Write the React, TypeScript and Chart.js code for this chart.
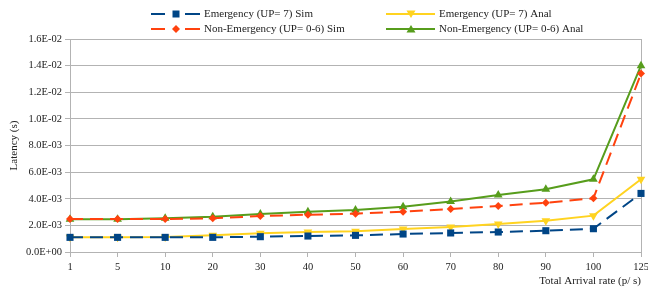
import React, { useEffect, useRef } from "react";
import { Chart, registerables } from "chart.js";

Chart.register(...registerables);

const categories = ["1", "5", "10", "20", "30", "40", "50", "60", "70", "80", "90", "100", "125"];
const emergencySim = [0.0011, 0.0011, 0.0011, 0.0011, 0.00115, 0.0012, 0.00125, 0.00135, 0.00143, 0.0015, 0.0016, 0.00175, 0.0044];
const emergencyAnal = [0.0011, 0.0011, 0.00113, 0.00125, 0.0014, 0.0015, 0.00155, 0.00173, 0.00188, 0.0021, 0.00235, 0.00273, 0.00546];
const nonEmergencySim = [0.00248, 0.00248, 0.00248, 0.00253, 0.0027, 0.0028, 0.00288, 0.00303, 0.00323, 0.00346, 0.0037, 0.00403, 0.0134];
const nonEmergencyAnal = [0.00246, 0.00246, 0.00253, 0.00265, 0.00285, 0.00303, 0.00315, 0.0034, 0.0038, 0.00428, 0.00471, 0.00546, 0.0140];
const seriesLabels = [
  "Emergency (UP= 7) Sim",
  "Non-Emergency (UP= 0-6) Sim",
  "Emergency (UP= 7) Anal",
  "Non-Emergency (UP= 0-6) Anal",
];

const BLUE = "#004586";
const ORANGE = "#ff420e";
const YELLOW = "#ffd320";
const GREEN = "#579d1c";
const GRID = "#b3b3b3";
const TEXT = "#222";
const FONT = "'Liberation Serif', 'Times New Roman', serif";

function fmtSci(v: number): string {
  if (Math.abs(v) < 1e-12) return "0.0E+00";
  const s = v.toExponential(1);
  const [m, e] = s.split("e");
  const n = parseInt(e, 10);
  const sign = n < 0 ? "-" : "+";
  const abs = Math.abs(n);
  return m + "E" + sign + (abs < 10 ? "0" + abs : String(abs));
}

function drawMarker(ctx: CanvasRenderingContext2D, kind: string, x: number, y: number, color: string) {
  ctx.save();
  ctx.fillStyle = color;
  ctx.beginPath();
  if (kind === "rect") {
    ctx.rect(x - 3.5, y - 3.5, 7, 7);
  } else if (kind === "rectRot") {
    ctx.moveTo(x, y - 4);
    ctx.lineTo(x + 4, y);
    ctx.lineTo(x, y + 4);
    ctx.lineTo(x - 4, y);
    ctx.closePath();
  } else if (kind === "triDown") {
    ctx.moveTo(x - 4.5, y - 3.5);
    ctx.lineTo(x + 4.5, y - 3.5);
    ctx.lineTo(x, y + 4);
    ctx.closePath();
  } else {
    ctx.moveTo(x - 4.5, y + 3.5);
    ctx.lineTo(x + 4.5, y + 3.5);
    ctx.lineTo(x, y - 4);
    ctx.closePath();
  }
  ctx.fill();
  ctx.restore();
}

const legendPlugin = {
  id: "customLegend",
  afterDraw(chart: any) {
    const ctx: CanvasRenderingContext2D = chart.ctx;
    const items = [
      { label: seriesLabels[0], color: BLUE, marker: "rect", dashed: true, x: 151, y: 14 },
      { label: seriesLabels[1], color: ORANGE, marker: "rectRot", dashed: true, x: 151, y: 29 },
      { label: seriesLabels[2], color: YELLOW, marker: "triDown", dashed: false, x: 386, y: 14 },
      { label: seriesLabels[3], color: GREEN, marker: "tri", dashed: false, x: 386, y: 29 },
    ];
    ctx.save();
    for (const it of items) {
      ctx.strokeStyle = it.color;
      ctx.lineWidth = 2;
      ctx.beginPath();
      if (it.dashed) {
        ctx.moveTo(it.x, it.y);
        ctx.lineTo(it.x + 14, it.y);
        ctx.moveTo(it.x + 34, it.y);
        ctx.lineTo(it.x + 49, it.y);
      } else {
        ctx.moveTo(it.x, it.y);
        ctx.lineTo(it.x + 49, it.y);
      }
      ctx.stroke();
      drawMarker(ctx, it.marker, it.x + 25, it.y, it.color);
      ctx.fillStyle = TEXT;
      ctx.font = "11px " + FONT;
      ctx.textBaseline = "middle";
      ctx.textAlign = "left";
      ctx.fillText(it.label, it.x + 53, it.y);
    }
    ctx.restore();
  },
};

export default function App() {
  const ref = useRef<HTMLCanvasElement | null>(null);

  useEffect(() => {
    document.body.style.margin = "0";
    const canvas = ref.current;
    if (!canvas) return;
    const dash = [13, 7];
    const chart = new Chart(canvas, {
      type: "line",
      data: {
        labels: categories,
        datasets: [
          {
            label: seriesLabels[0],
            data: emergencySim,
            borderColor: BLUE,
            backgroundColor: BLUE,
            borderWidth: 2,
            borderDash: dash,
            pointStyle: "rect",
            pointRadius: 5,
            pointBorderWidth: 0,
            tension: 0,
          },
          {
            label: seriesLabels[1],
            data: nonEmergencySim,
            borderColor: ORANGE,
            backgroundColor: ORANGE,
            borderWidth: 2,
            borderDash: dash,
            pointStyle: "rectRot",
            pointRadius: 4,
            pointBorderWidth: 0,
            tension: 0,
          },
          {
            label: seriesLabels[2],
            data: emergencyAnal,
            borderColor: YELLOW,
            backgroundColor: YELLOW,
            borderWidth: 2,
            pointStyle: "triangle",
            pointRotation: 180,
            pointRadius: 5,
            pointBorderWidth: 0,
            tension: 0,
          },
          {
            label: seriesLabels[3],
            data: nonEmergencyAnal,
            borderColor: GREEN,
            backgroundColor: GREEN,
            borderWidth: 2,
            pointStyle: "triangle",
            pointRadius: 5,
            pointBorderWidth: 0,
            tension: 0,
          },
        ],
      },
      options: {
        responsive: false,
        animation: false,
        layout: { padding: { left: 0, right: 7, top: 39, bottom: 0 } },
        plugins: {
          legend: { display: false },
          tooltip: { enabled: false },
        },
        scales: {
          x: {
            offset: false,
            grid: {
              display: true,
              drawOnChartArea: true,
              color: (c: any) => (c.index === categories.length - 1 ? GRID : "rgba(0,0,0,0)"),
              tickColor: GRID,
              tickLength: 5,
              lineWidth: 1,
            },
            border: { display: true, color: GRID, width: 1 },
            ticks: {
              color: TEXT,
              font: { family: FONT, size: 10.5 },
              padding: 4,
              maxRotation: 0,
              autoSkip: false,
            },
            title: {
              display: true,
              text: "Total Arrival rate (p/ s)",
              align: "end",
              color: TEXT,
              font: { family: FONT, size: 11 },
              padding: { top: 4, bottom: 0 },
            },
            afterFit: (s: any) => {
              s.height = 36;
              s.paddingRight = 0;
              s.paddingLeft = 0;
            },
          },
          y: {
            min: 0,
            max: 0.016,
            ticks: {
              stepSize: 0.002,
              color: TEXT,
              font: { family: FONT, size: 10.5 },
              padding: 3,
              callback: (v: any) => fmtSci(Number(v)),
            },
            grid: {
              color: GRID,
              tickColor: GRID,
              tickLength: 5,
              lineWidth: 1,
            },
            border: { display: true, color: GRID, width: 1 },
            title: {
              display: true,
              text: "Latency (s)",
              color: TEXT,
              font: { family: FONT, size: 11 },
              padding: { top: 8, bottom: 0 },
            },
            afterFit: (s: any) => {
              s.width = 70;
              s.paddingTop = 0;
              s.paddingBottom = 0;
            },
          },
        },
      },
      plugins: [legendPlugin],
    } as any);
    return () => chart.destroy();
  }, []);

  return <canvas ref={ref} width={648} height={288} style={{ display: "block" }} />;
}
